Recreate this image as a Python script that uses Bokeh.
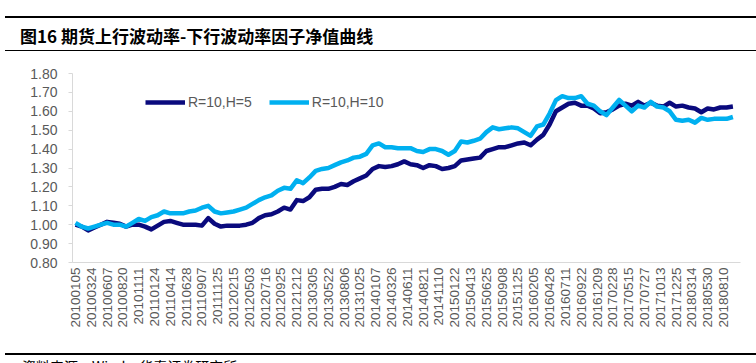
import math
import numpy as np
from bokeh.plotting import figure
from bokeh.models import (ColumnDataSource, Range1d, FixedTicker, Legend, LegendItem,
                          Div, PrintfTickFormatter)
from bokeh.layouts import column
from bokeh.embed import file_html
from bokeh.resources import INLINE

title_text = "图16 期货上行波动率-下行波动率因子净值曲线"
source_text = "资料来源：Wind，华泰证券研究所"
series_names = ["R=10,H=5", "R=10,H=10"]

# tick labels (every 50th trading day)
tick_labels = ["20100105", "20100324", "20100607", "20100820", "20101111",
               "20110124", "20110414", "20110628", "20110907", "20111125",
               "20120215", "20120503", "20120716", "20120925", "20121212",
               "20130305", "20130522", "20130806", "20131025", "20140107",
               "20140326", "20140611", "20140821", "20141110", "20150122",
               "20150413", "20150625", "20150908", "20151125", "20160205",
               "20160426", "20160711", "20160922", "20161209", "20170228",
               "20170515", "20170727", "20171013", "20171225", "20180314",
               "20180530", "20180810"]
label_step = 50   # trading days between labels
sample_step = 20  # trading days between data samples

h5 = [1.00, 0.99, 0.97, 0.985, 1.00, 1.015, 1.01, 1.005, 0.99, 1.00,
      1.00, 0.99, 0.975, 0.995, 1.015, 1.02, 1.01, 1.00, 1.00, 1.00,
      0.995, 1.035, 1.005, 0.99, 0.995, 0.995, 0.995, 1.00, 1.01, 1.035,
      1.05, 1.055, 1.07, 1.09, 1.08, 1.13, 1.125, 1.145, 1.185, 1.19,
      1.19, 1.20, 1.215, 1.21, 1.23, 1.245, 1.26, 1.295, 1.31, 1.305,
      1.31, 1.32, 1.335, 1.32, 1.315, 1.30, 1.315, 1.31, 1.295, 1.30,
      1.31, 1.34, 1.345, 1.35, 1.355, 1.39, 1.40, 1.41, 1.41, 1.42,
      1.43, 1.435, 1.42, 1.45, 1.475, 1.53, 1.60, 1.62, 1.64, 1.645,
      1.63, 1.63, 1.615, 1.59, 1.595, 1.61, 1.63, 1.64, 1.63, 1.65,
      1.63, 1.645, 1.63, 1.625, 1.645, 1.625, 1.63, 1.62, 1.615, 1.595,
      1.615, 1.61, 1.62, 1.62, 1.625]

h10 = [1.01, 0.99, 0.98, 0.99, 1.00, 1.01, 1.00, 1.00, 0.99, 1.01,
       1.03, 1.02, 1.04, 1.05, 1.07, 1.06, 1.06, 1.06, 1.07, 1.075,
       1.09, 1.10, 1.07, 1.06, 1.065, 1.07, 1.08, 1.09, 1.11, 1.13,
       1.145, 1.155, 1.18, 1.195, 1.19, 1.235, 1.22, 1.25, 1.285, 1.295,
       1.30, 1.315, 1.33, 1.34, 1.355, 1.36, 1.375, 1.42, 1.43, 1.41,
       1.41, 1.405, 1.405, 1.405, 1.39, 1.385, 1.40, 1.40, 1.39, 1.37,
       1.39, 1.44, 1.435, 1.444, 1.455, 1.49, 1.515, 1.505, 1.51, 1.515,
       1.51, 1.49, 1.47, 1.52, 1.53, 1.588, 1.659, 1.68, 1.67, 1.67,
       1.68, 1.64, 1.63, 1.60, 1.58, 1.62, 1.66, 1.63, 1.60, 1.63,
       1.62, 1.65, 1.625, 1.62, 1.60, 1.555, 1.55, 1.555, 1.54, 1.565,
       1.555, 1.56, 1.56, 1.56, 1.57]

colors = ["#0a0a7d", "#00b0f0"]

t = np.arange(len(h5)) * sample_step
src = ColumnDataSource(dict(t=t, h5=h5, h10=h10))

p = figure(width=756, height=300, output_backend="svg", toolbar_location=None,
           x_range=Range1d(-9.5, 2104), y_range=Range1d(0.8, 1.8),
           min_border_left=72, min_border_right=16, min_border_top=21,
           min_border_bottom=90)
p.outline_line_color = None
p.grid.visible = False
p.background_fill_color = "white"

r1 = p.line("t", "h5", source=src, line_color=colors[0], line_width=4.5,
            line_join="round")
r2 = p.line("t", "h10", source=src, line_color=colors[1], line_width=4.5,
            line_join="round")

tick_pos = [i * label_step for i in range(len(tick_labels))]
p.xaxis.ticker = FixedTicker(ticks=tick_pos)
p.xaxis.major_label_overrides = {pos: lab for pos, lab in zip(tick_pos, tick_labels)}
p.xaxis.major_label_orientation = math.pi / 2
p.xaxis.major_tick_out = 0
p.xaxis.major_tick_in = 0
p.xaxis.minor_tick_line_color = None
p.xaxis.axis_line_color = "#d9d9d9"
p.xaxis.major_label_text_font = "Liberation Sans"
p.xaxis.major_label_text_font_size = "13.5px"
p.xaxis.major_label_text_color = "#595959"
p.xaxis.major_label_standoff = 5

p.yaxis.ticker = FixedTicker(ticks=[0.8 + 0.1 * i for i in range(11)])
p.yaxis.formatter = PrintfTickFormatter(format="%.2f")
p.yaxis.major_tick_out = 4
p.yaxis.major_tick_in = 0
p.yaxis.minor_tick_line_color = None
p.yaxis.axis_line_color = "#d9d9d9"
p.yaxis.major_tick_line_color = "#d9d9d9"
p.yaxis.major_label_text_font = "Liberation Sans"
p.yaxis.major_label_text_font_size = "14px"
p.yaxis.major_label_text_color = "#595959"
p.yaxis.major_label_standoff = 11

legend = Legend(items=[LegendItem(label=series_names[0], renderers=[r1]),
                       LegendItem(label=series_names[1], renderers=[r2])],
                orientation="horizontal", location=(73, 152),
                glyph_width=40, glyph_height=16, label_height=16,
                label_standoff=3, spacing=17, padding=0, margin=0,
                border_line_color=None, background_fill_alpha=0,
                label_text_font="Liberation Sans", label_text_font_size="14px",
                label_text_color="#595959")
p.add_layout(legend)

top_div = Div(text=(
    '<div style="position:relative;width:756px;height:52px;">'
    '<div style="position:absolute;left:5px;top:16px;width:751px;border-top:2px solid #000;"></div>'
    '<div style="position:absolute;left:20px;top:25px;font-family:\'Noto Sans CJK SC\';'
    'font-weight:bold;font-size:17px;line-height:22px;color:#000;white-space:nowrap;">'
    + title_text + '</div>'
    '<div style="position:absolute;left:5px;top:50px;width:751px;border-top:1px solid #000;"></div>'
    '</div>'), width=756, height=52, margin=(0, 0, 0, 0))

bottom_div = Div(text=(
    '<div style="position:relative;width:756px;height:11px;overflow:hidden;">'
    '<div style="position:absolute;left:5px;top:0px;width:751px;border-top:2px solid #000;"></div>'
    '<div style="position:absolute;left:22px;top:4px;font-family:\'Noto Sans CJK SC\';'
    'font-size:14px;line-height:18px;color:#000;white-space:nowrap;">'
    + source_text + '</div>'
    '</div>'), width=756, height=11, margin=(0, 0, 0, 0))

layout = column(top_div, p, bottom_div, spacing=0)

open("out.html", "w").write(file_html(layout, INLINE))
